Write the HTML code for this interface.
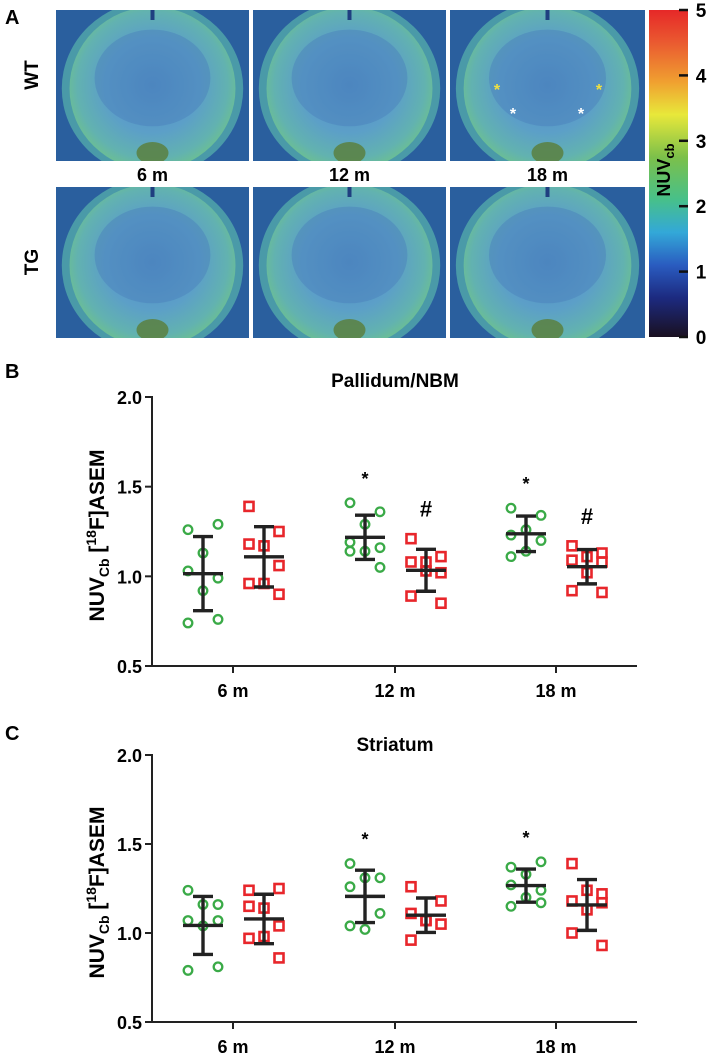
<!DOCTYPE html>
<html><head><meta charset="utf-8"><style>
html,body{margin:0;padding:0;background:#fff;}
svg{display:block;font-family:"Liberation Sans",Arial,sans-serif;}
</style></head><body>
<svg id="fig" width="713" height="1054" viewBox="0 0 713 1054">
<defs>
<radialGradient id="brainG" cx="50%" cy="48%" r="58%">
<stop offset="0%" stop-color="#4f8cc4"/><stop offset="50%" stop-color="#5c9fc8"/><stop offset="78%" stop-color="#62b2b0"/><stop offset="92%" stop-color="#6cc090"/><stop offset="100%" stop-color="#3a7aa8"/>
</radialGradient>
<linearGradient id="cbar" x1="0" y1="1" x2="0" y2="0">
<stop offset="0%" stop-color="#1a1020"/><stop offset="12%" stop-color="#1c2a80"/><stop offset="22%" stop-color="#2a5cc0"/><stop offset="32%" stop-color="#33a8d8"/><stop offset="42%" stop-color="#47c08a"/><stop offset="55%" stop-color="#7cc04a"/><stop offset="68%" stop-color="#e8e83a"/><stop offset="78%" stop-color="#f0a030"/><stop offset="90%" stop-color="#ea5a30"/><stop offset="100%" stop-color="#e62828"/>
</linearGradient>
</defs>
<g id="panelA"></g>
<g id="panelB"></g>
<g id="panelC"></g>
</svg>
<script>
// Panel B data (Pallidum/NBM)
const categories = ["6 m","12 m","18 m"];
const yTicks = [0.5,1.0,1.5,2.0];
const yTickLabels = ["0.5","1.0","1.5","2.0"];
const bWT6 = [1.26,1.29,1.13,1.03,0.99,0.92,0.74,0.76];
const bTG6 = [1.39,1.25,1.17,1.18,1.06,0.96,0.96,0.90];
const bWT12 = [1.41,1.36,1.29,1.19,1.16,1.14,1.14,1.05];
const bTG12 = [1.21,1.11,1.08,1.08,1.02,1.03,0.89,0.85];
const bWT18 = [1.38,1.34,1.26,1.23,1.20,1.14,1.11];
const bTG18 = [1.17,1.13,1.11,1.09,1.08,1.02,0.92,0.91];
const bMarksWT = ["","*","*"];
const bMarksTG = ["","#","#"];
// Panel C data (Striatum)
const cWT6 = [1.24,1.16,1.16,1.07,1.07,1.04,0.79,0.81];
const cTG6 = [1.24,1.25,1.14,1.15,1.04,0.98,0.97,0.86];
const cWT12 = [1.39,1.31,1.31,1.26,1.11,1.02,1.04];
const cTG12 = [1.26,1.18,1.07,1.11,1.05,1.07,0.96];
const cWT18 = [1.37,1.40,1.33,1.27,1.24,1.20,1.15,1.17];
const cTG18 = [1.39,1.22,1.24,1.18,1.17,1.13,1.00,0.93];
const cMarksWT = ["","*","*"];
const cMarksTG = ["","",""];
const cbTicks = [0,1,2,3,4,5];

const NS="http://www.w3.org/2000/svg";
function mk(p,tag,at,txt){const e=document.createElementNS(NS,tag);for(const k in at)e.setAttribute(k,at[k]);if(txt!==undefined)e.textContent=txt;p.appendChild(e);return e;}

// ---------- Panel A ----------
const A=document.getElementById('panelA');
const defs=document.querySelector('defs');
const lA=mk(A,'text',{x:5,y:24,'font-size':20,'font-weight':'bold'},'A');


const cols=[[56,249],[253,446],[450,645]];
const rows=[[10,161],[187,338]];
const colLabels=["6 m","12 m","18 m"];
rows.forEach((r,ri)=>{cols.forEach((c,ci)=>{
  const w=c[1]-c[0],h=r[1]-r[0];
  const id='clip'+ri+ci;
  const cp=mk(defs,'clipPath',{id:id});
  mk(cp,'rect',{x:c[0],y:r[0],width:w,height:h});
  const g=mk(A,'g',{'clip-path':'url(#'+id+')'});
  
  
  mk(g,'rect',{x:c[0],y:r[0],width:w,height:h,fill:'#2a5f9e'});
  mk(g,'ellipse',{cx:c[0]+w/2,cy:r[0]+h*0.52,rx:w*0.47,ry:h*0.58,fill:'#4a9aa8'});
  mk(g,'ellipse',{cx:c[0]+w/2,cy:r[0]+h*0.52,rx:w*0.43,ry:h*0.54,fill:'url(#brainG)'});
  mk(g,'ellipse',{cx:c[0]+w/2,cy:r[0]+h*0.45,rx:w*0.3,ry:h*0.32,fill:'#4a7fbb',opacity:0.45});
  mk(g,'ellipse',{cx:c[0]+w/2,cy:r[1]-8,rx:16,ry:11,fill:'#5a8040',opacity:0.85});
  mk(g,'rect',{x:c[0]+w/2-2,y:r[0],width:4,height:10,fill:'#1f3f80'});
})});
[[100,75],[100,262]].forEach((p,i)=>{
  const t=mk(A,'text',{x:0,y:0,'font-size':19,'font-weight':'bold','text-anchor':'middle',transform:'translate(38,'+p[1]+') rotate(-90)'},i?'TG':'WT');
  
  
});
colLabels.forEach((l,i)=>{
  const t=mk(A,'text',{x:(cols[i][0]+cols[i][1])/2,y:181,'font-size':18,'font-weight':'bold','text-anchor':'middle'},l);
  
  
});
[[497,87,'#f0e040'],[599,87,'#f0e040'],[513,111,'#fff'],[581,111,'#fff']].forEach((s,i)=>{
  const t=mk(A,'text',{x:s[0],y:s[1]+8,'font-size':16,'font-weight':'bold',fill:s[2],'text-anchor':'middle'},'*');
  
  
});
const cb=mk(A,'rect',{x:649,y:10,width:39,height:327,fill:'url(#cbar)'});


cbTicks.forEach(v=>{
  const y=337-v*(327/5);
  mk(A,'line',{x1:679,x2:688,y1:y,y2:y,stroke:'#111','stroke-width':2.5});
  const t=mk(A,'text',{x:701,y:y+7,'font-size':19,'font-weight':'bold','text-anchor':'middle'},String(v));
  
  
});
const cbt=mk(A,'text',{x:0,y:0,'font-size':18,'font-weight':'bold','text-anchor':'middle',transform:'translate(670,170) rotate(-90)'});


mk(cbt,'tspan',{},'NUV');mk(cbt,'tspan',{'font-size':13,dy:4},'cb');

// ---------- scatter panels ----------
function panel(root,opt){
  const x0=152,x1=637,yb=opt.y05,yt=opt.y20;
  const Y=v=>yb+(v-0.5)/1.5*(yt-yb);
  const catX=[233,395,556];
  const lab=mk(root,'text',{x:5,y:opt.labY,'font-size':20,'font-weight':'bold'},opt.letter);
  
  
  const tt=mk(root,'text',{x:395,y:opt.titleY,'font-size':19,'font-weight':'bold','text-anchor':'middle'},opt.title);
  
  
  const ax=mk(root,'path',{d:`M${x0},${yt-1}V${yb}H${x1}`,fill:'none',stroke:'#222','stroke-width':2});
  
  
  yTicks.forEach((v,i)=>{
    mk(root,'line',{x1:x0-7,x2:x0,y1:Y(v),y2:Y(v),stroke:'#222','stroke-width':2});
    const t=mk(root,'text',{x:x0-10,y:Y(v)+7,'font-size':18,'font-weight':'bold','text-anchor':'end'},yTickLabels[i]);
    
    
  });
  categories.forEach((c,i)=>{
    mk(root,'line',{x1:catX[i],x2:catX[i],y1:yb,y2:yb+7,stroke:'#222','stroke-width':2});
    const t=mk(root,'text',{x:catX[i],y:yb+31,'font-size':18,'font-weight':'bold','text-anchor':'middle'},c);
    
    
  });
  const yl=mk(root,'text',{x:0,y:0,'font-size':21,'font-weight':'bold','text-anchor':'middle',transform:`translate(104,${(yb+yt)/2+4}) rotate(-90)`});
  
  
  mk(yl,'tspan',{},'NUV');mk(yl,'tspan',{'font-size':14,dy:5},'Cb');mk(yl,'tspan',{dy:-5},' [');
  mk(yl,'tspan',{'font-size':14,dy:-8},'18');mk(yl,'tspan',{dy:8},'F]ASEM');
  const jit=[-1,1,0,-1,1,0,-1,1];
  opt.groups.forEach((gr,gi)=>{
    const ci=Math.floor(gi/2),isTG=gi%2===1;
    const cx=catX[ci]+(isTG?31:-30);
    const g=mk(root,'g',{});
    
    
    gr.forEach((v,k)=>{
      const px=cx+jit[k%8]*15,py=Y(v);
      let m;
      if(isTG){m=mk(g,'rect',{x:px-4.5,y:py-4.5,width:9,height:9,fill:'none',stroke:'#e8262b','stroke-width':2.6});}
      else{m=mk(g,'circle',{cx:px,cy:py,r:4.3,fill:'none',stroke:'#3aaa47','stroke-width':2.3});}
      
      
    });
    const mean=gr.reduce((a,b)=>a+b,0)/gr.length;
    const sd=Math.sqrt(gr.reduce((a,b)=>a+(b-mean)*(b-mean),0)/(gr.length-1));
    const eb=mk(g,'path',{d:`M${cx-20},${Y(mean)}H${cx+20}M${cx},${Y(mean+sd)}V${Y(mean-sd)}M${cx-10},${Y(mean+sd)}H${cx+10}M${cx-10},${Y(mean-sd)}H${cx+10}`,fill:'none',stroke:'#222','stroke-width':3.4});
    
    
    const mark=(isTG?opt.marksTG:opt.marksWT)[ci];
    if(mark){
      const top=Math.max(...gr);
      const t=mk(g,'text',{x:cx,y:Y(top)+(mark==='*'?-18:-22),'font-size':mark==='*'?18:22,'font-weight':'bold','text-anchor':'middle'},mark);
      
      
    }
  });
}
panel(document.getElementById('panelB'),{letter:'B',labY:378,title:'Pallidum/NBM',titleY:387,y05:666,y20:397,
  groups:[bWT6,bTG6,bWT12,bTG12,bWT18,bTG18],marksWT:bMarksWT,marksTG:bMarksTG});
panel(document.getElementById('panelC'),{letter:'C',labY:740,title:'Striatum',titleY:751,y05:1022,y20:755,
  groups:[cWT6,cTG6,cWT12,cTG12,cWT18,cTG18],marksWT:cMarksWT,marksTG:cMarksTG});
</script>
</body></html>
